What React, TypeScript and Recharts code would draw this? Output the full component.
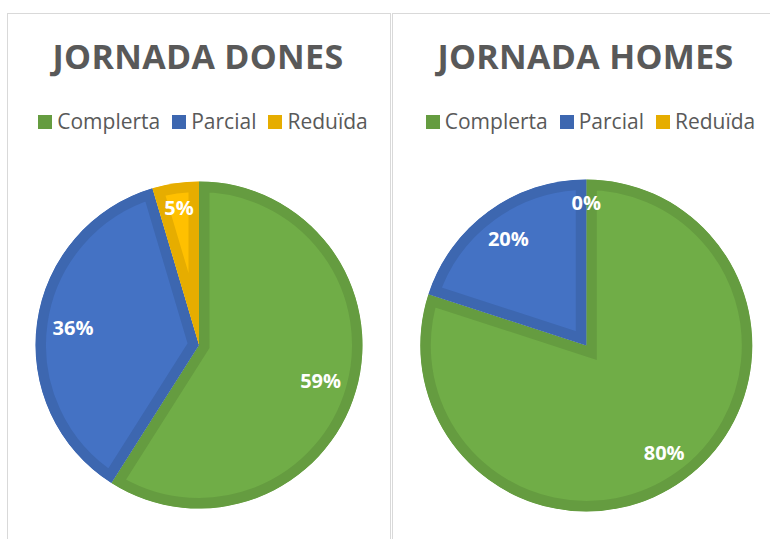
import React from 'react';
import { PieChart, Pie, Cell, Legend, Sector } from 'recharts';

const categories = ['Complerta', 'Parcial', 'Reduïda'];
const donesValues = [59.0, 36.4, 4.6];
const homesValues = [80.0, 20.0, 0];
const fillColors = ['#70AD47', '#4472C4', '#FFC000'];
const edgeColors = ['#659C40', '#3D67B0', '#E6AD00'];

const FONT = '"Open Sans", "Liberation Sans", sans-serif';
const TEXT_COLOR = '#595959';
const BORDER = '1px solid #d9d9d9';
const RAD = Math.PI / 180;

const toRows = (values: number[]) => categories.map((name, i) => ({ name, value: values[i] }));

// Excel draws the slice outline inside the slice: double-width stroke clipped to the slice
const makeSliceShape = (chartId: string) => (props: any) => {
  const { cx, cy, innerRadius, outerRadius, startAngle, endAngle, fill, stroke } = props;
  if (startAngle === endAngle) return <g />;
  const id = `${chartId}-${Math.round(startAngle * 10)}-${Math.round(endAngle * 10)}`;
  return (
    <g>
      <defs>
        <clipPath id={id}>
          <Sector cx={cx} cy={cy} innerRadius={innerRadius} outerRadius={outerRadius}
            startAngle={startAngle} endAngle={endAngle} />
        </clipPath>
      </defs>
      <Sector cx={cx} cy={cy} innerRadius={innerRadius} outerRadius={outerRadius}
        startAngle={startAngle} endAngle={endAngle} fill={fill} stroke={stroke}
        strokeWidth={21} clipPath={`url(#${id})`} />
    </g>
  );
};

// "inside end" style placement
const renderPercentLabel = (props: any) => {
  const { cx, cy, midAngle, outerRadius, percent } = props;
  const text = `${Math.round(percent * 100)}%`;
  const cos = Math.cos(-midAngle * RAD);
  const sin = Math.sin(-midAngle * RAD);
  const halfW = text.length * 6.8;
  const halfH = 8;
  const r = outerRadius - 15 - Math.abs(cos) * halfW - Math.abs(sin) * halfH;
  return (
    <text x={cx + r * cos} y={cy + r * sin} fill="#fff" fontFamily={FONT} fontWeight={700}
      fontSize={20} textAnchor="middle" dominantBaseline="central">
      {text}
    </text>
  );
};

const renderLegend = (props: any) => {
  const items = props.payload || [];
  return (
    <div style={{
      display: 'flex', justifyContent: 'center', alignItems: 'center',
      fontFamily: FONT, fontSize: 21, lineHeight: '21px', color: TEXT_COLOR,
    }}>
      {items.map((it: any, i: number) => (
        <div key={i} style={{ display: 'flex', alignItems: 'center', marginRight: i < items.length - 1 ? 12 : 0 }}>
          <span style={{
            display: 'inline-block', width: 14, height: 14, marginRight: 5,
            background: edgeColors[categories.indexOf(it.value)] || it.color,
          }} />
          <span>{it.value}</span>
        </div>
      ))}
    </div>
  );
};

interface PanelProps {
  id: string;
  title: string;
  values: number[];
  left: number;
  width: number;
  cx: number;
  cy: number;
  radius: number;
}

const PiePanel: React.FC<PanelProps> = ({ id, title, values, left, width, cx, cy, radius }) => {
  const chartW = width - 2;
  const chartH = 525;
  const shape = makeSliceShape(id);
  return (
    <div style={{
      position: 'absolute', left, top: 13, width, height: 540, boxSizing: 'border-box',
      borderTop: BORDER, borderLeft: BORDER, borderRight: BORDER, background: '#fff',
    }}>
      <div style={{ position: 'relative', width: chartW, height: chartH }}>
        <svg width={chartW} height={80} style={{ position: 'absolute', left: 0, top: 0 }}>
          <text x={chartW / 2 - 1} y={55} textAnchor="middle" fontFamily={FONT} fontWeight={700}
            fontSize={34} letterSpacing={0.3} fill={TEXT_COLOR}>
            {title}
          </text>
        </svg>
        <div style={{ position: 'absolute', left: 0, top: 0 }}>
          <PieChart width={chartW} height={chartH} margin={{ top: 0, right: 0, bottom: 0, left: 0 }}>
            <Pie
              data={toRows(values)}
              dataKey="value"
              nameKey="name"
              cx={cx}
              cy={cy}
              innerRadius={0}
              outerRadius={radius}
              startAngle={90}
              endAngle={-270}
              label={renderPercentLabel}
              labelLine={false}
              shape={shape}
              inactiveShape={shape}
              activeShape={shape}
              isAnimationActive={false}
            >
              {values.map((_, i) => (
                <Cell key={i} fill={fillColors[i]} stroke={edgeColors[i]} />
              ))}
            </Pie>
            <Legend
              layout="horizontal"
              align="center"
              verticalAlign="middle"
              content={renderLegend}
              wrapperStyle={{ top: 97, left: 4, width: chartW }}
            />
          </PieChart>
        </div>
      </div>
    </div>
  );
};

export default function App() {
  return (
    <div style={{ position: 'absolute', left: 0, top: 0, width: 770, height: 539, overflow: 'hidden', background: '#fff' }}>
      <PiePanel id="dones" title="JORNADA DONES" values={donesValues}
        left={7} width={384} cx={191} cy={331} radius={163.5} />
      <PiePanel id="homes" title="JORNADA HOMES" values={homesValues}
        left={392} width={389} cx={193.3} cy={331.5} radius={166} />
    </div>
  );
}
